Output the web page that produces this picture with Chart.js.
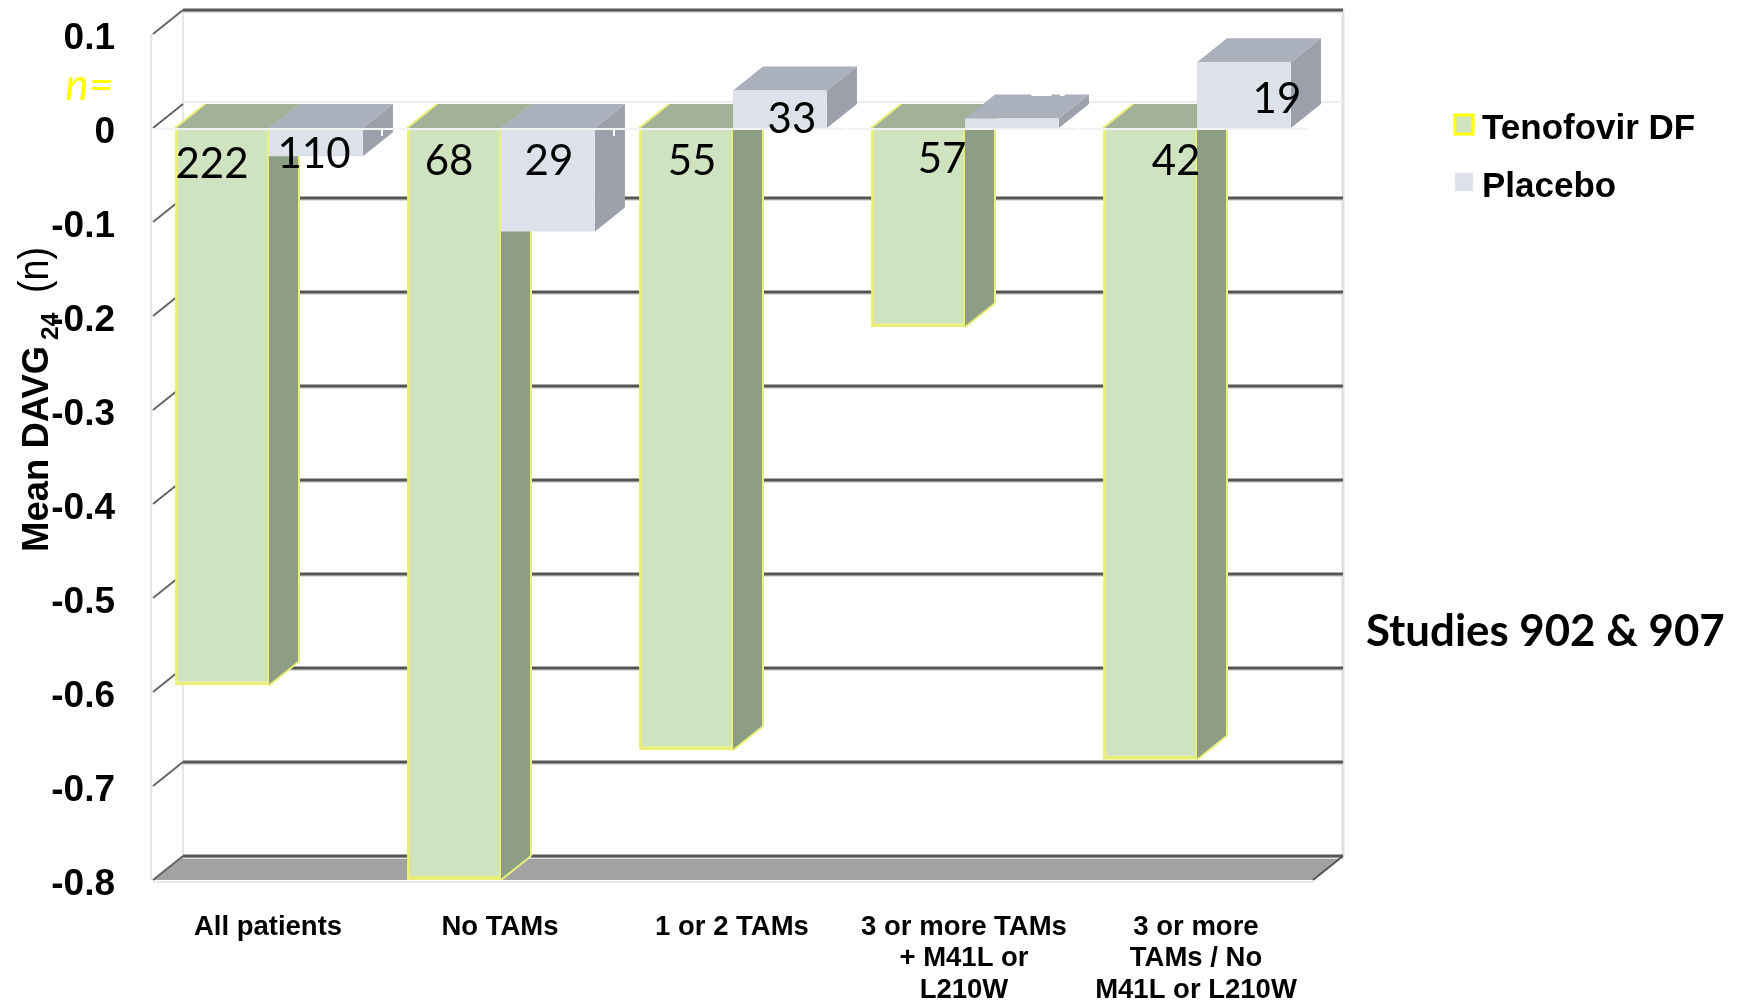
<!DOCTYPE html>
<html lang="en">
<head>
    <meta charset="UTF-8">
    <title>Mean DAVG24 by TAM group</title>
    <script src="https://cdn.jsdelivr.net/npm/chart.js"></script>
    <style>
        *{
            margin: 0;
            padding: 0;
        }
        body{
            background-color: white;
            overflow: hidden;
        }
        canvas{
            display: block;
        }
    </style>
</head>
<body>
    <canvas id="chart" width="1737" height="1004"></canvas>
    <script>
        const categories = [
            "All patients",
            "No TAMs",
            "1 or 2 TAMs",
            ["3 or more TAMs", "+ M41L or", "L210W"],
            ["3 or more", "TAMs / No", "M41L or L210W"]
        ]
        const seriesNames = ["Tenofovir DF", "Placebo"]
        const tenofovir = [-0.593, -0.8, -0.662, -0.212, -0.672]
        const placebo = [-0.03, -0.11, 0.04, 0.01, 0.07]
        const tenofovirN = [222, 68, 55, 57, 42]
        const placeboN = [110, 29, 33, 29, 19]
        const yTickLabels = ["-0.8", "-0.7", "-0.6", "-0.5", "-0.4", "-0.3", "-0.2", "-0.1", "0", "0.1"]

        // oblique depth of the 3D box
        const depthX = 30
        const depthY = 24

        const sans = "'Liberation Sans', Arial, sans-serif"
        const green = {front: "#cfe3c1", side: "#8d9e84", top: "#a2b198", edge: "#e9ef78"}
        const grey = {front: "#dde1ea", side: "#9ba0ab", top: "#aab0bc", edge: null}

        // nudges for the count labels, relative to the bar centre and the zero line
        const tenofovirNudge = [[-10, 36], [-5, 33], [6, 33], [24, 31], [26, 33]]
        const placeboNudge = [[-2, 26], [1, 33], [12, -9], [42, -46], [33, -29]]

        function poly(ctx, pts, fill){
            ctx.beginPath()
            pts.forEach((p, i) => i ? ctx.lineTo(p[0], p[1]) : ctx.moveTo(p[0], p[1]))
            ctx.closePath()
            ctx.fillStyle = fill
            ctx.fill()
        }

        function line(ctx, x1, y1, x2, y2, color, width){
            ctx.beginPath()
            ctx.moveTo(x1, y1)
            ctx.lineTo(x2, y2)
            ctx.strokeStyle = color
            ctx.lineWidth = width
            ctx.stroke()
        }

        function drawFaces(ctx, meta, style){
            meta.data.forEach(bar => {
                const xl = bar.x - bar.width / 2
                const xr = bar.x + bar.width / 2
                const yt = Math.min(bar.y, bar.base)
                const yb = Math.max(bar.y, bar.base)
                poly(ctx, [[xr, yt], [xr + depthX, yt - depthY], [xr + depthX, yb - depthY], [xr, yb]], style.side)
                poly(ctx, [[xl, yt], [xl + depthX, yt - depthY], [xr + depthX, yt - depthY], [xr, yt]], style.top)
                if (style.edge){
                    line(ctx, xl, yt, xl + depthX, yt - depthY, style.edge, 2)
                    line(ctx, xr + depthX, yt - depthY, xr + depthX, yb - depthY, style.edge, 2)
                    line(ctx, xr, yb, xr + depthX, yb - depthY, style.edge, 2)
                }
            })
        }

        // walls, floor, gridlines on the back plane, then the bars' side and top faces
        const boxPlugin = {
            id: "box",
            beforeDatasetsDraw(chart){
                const ctx = chart.ctx
                const y = chart.scales.y
                const {left, right, top, bottom} = chart.chartArea
                ctx.save()
                poly(ctx, [[left, bottom], [left + depthX, bottom - depthY], [right + depthX, bottom - depthY], [right, bottom]], "#a2a2a2")
                line(ctx, left - 2, top, left - 2, bottom, "#e6e6e6", 2)
                line(ctx, left + depthX, top - depthY, left + depthX, bottom - depthY, "#e6e6e6", 2)
                line(ctx, right + depthX, top - depthY, right + depthX, bottom - depthY, "#e0e0e0", 3)
                line(ctx, left, bottom + 2, right, bottom + 2, "#e8e8e8", 2)
                y.ticks.forEach(t => {
                    const py = y.getPixelForValue(t.value)
                    const back = py - depthY
                    line(ctx, left, py, left + depthX, back, "#666", 2)
                    if (t.value === 0){
                        line(ctx, left + depthX, back - 2, right + depthX, back - 2, "#ececec", 2)
                        return
                    }
                    line(ctx, left + depthX, back + 2, right + depthX, back + 2, "#ddd", 2)
                    line(ctx, left + depthX, back, right + depthX, back, "#555", 3)
                })
                line(ctx, right, bottom, right + depthX, bottom - depthY, "#555", 2)
                drawFaces(ctx, chart.getDatasetMeta(0), green)
                drawFaces(ctx, chart.getDatasetMeta(1), grey)
                ctx.restore()
            },
            afterDatasetsDraw(chart){
                const ctx = chart.ctx
                const x = chart.scales.x
                const y = chart.scales.y
                const zero = y.getPixelForValue(0)
                ctx.save()
                line(ctx, chart.chartArea.left, zero + 1, chart.chartArea.right - 5, zero + 1, "#f3f3f3", 2)
                for (let i = 1; i < categories.length; i++){
                    const tx = (x.getPixelForValue(i - 1) + x.getPixelForValue(i)) / 2 - 3
                    line(ctx, tx, zero, tx, zero + 8, "white", 2)
                }

                // patient counts
                ctx.font = "42px Lato, sans-serif"
                ctx.textAlign = "center"
                ctx.textBaseline = "middle"
                const drawCounts = (meta, counts, nudge, hidden) => {
                    meta.data.forEach((bar, i) => {
                        ctx.fillStyle = i === hidden ? "white" : "black"
                        ctx.fillText(counts[i], bar.x + nudge[i][0], zero + nudge[i][1])
                    })
                }
                drawCounts(chart.getDatasetMeta(0), tenofovirN, tenofovirNudge, -1)
                drawCounts(chart.getDatasetMeta(1), placeboN, placeboNudge, 3)

                ctx.fillStyle = "#ffff00"
                ctx.textAlign = "right"
                ctx.font = "italic 44px Lato, sans-serif"
                ctx.fillText("n=", 114, 86)

                // y axis title with its subscript
                ctx.translate(48, 552)
                ctx.rotate(-Math.PI / 2)
                ctx.textAlign = "left"
                ctx.textBaseline = "alphabetic"
                ctx.fillStyle = "black"
                ctx.font = "bold 36.5px " + sans
                ctx.fillText("Mean DAVG", 0, 0)
                ctx.font = "bold 24.5px " + sans
                ctx.fillText("24", 212, 10)
                ctx.scale(1, 1.15)
                ctx.font = "37.6px " + sans
                ctx.fillText("(n)", 259, 0)
                ctx.restore()

                // legend and study note, right of the plot
                ctx.save()
                ctx.fillStyle = green.front
                ctx.fillRect(1455, 115, 18, 19)
                ctx.strokeStyle = "#ffff00"
                ctx.lineWidth = 3
                ctx.strokeRect(1455, 115, 18, 19)
                ctx.fillStyle = grey.front
                ctx.fillRect(1455, 173, 18, 18)
                ctx.fillStyle = "black"
                ctx.textBaseline = "middle"
                ctx.font = "bold 35px " + sans
                ctx.fillText(seriesNames[0], 1482, 129)
                ctx.fillText(seriesNames[1], 1482, 187)
                ctx.font = "bold 43.8px Lato, sans-serif"
                ctx.fillText("Studies 902 & 907", 1366, 632)
                ctx.restore()
            }
        }

        const data = {
            labels: categories,
            datasets: [{
                label: seriesNames[0],
                data: tenofovir,
                backgroundColor: green.front,
                borderColor: green.edge,
                borderWidth: {left: 3, right: 2, bottom: 4, top: 0},
                borderSkipped: false
            },
            {
                label: seriesNames[1],
                data: placebo,
                backgroundColor: grey.front,
                borderWidth: 0
            }]
        }

        const config = {
            type: "bar",
            data: data,
            options: {
                responsive: false,
                animation: false,
                categoryPercentage: 0.81,
                barPercentage: 1,
                layout: {padding: {top: 34, right: 424, left: 0, bottom: 0}},
                plugins: {
                    legend: {display: false},
                    tooltip: {enabled: false}
                },
                scales: {
                    x: {
                        afterFit: s => { s.height = 124 },
                        grid: {display: false},
                        border: {display: false},
                        ticks: {
                            autoSkip: false,
                            maxRotation: 0,
                            padding: 23,
                            labelOffset: -1,
                            color: "black",
                            font: {family: sans, size: 27.5, weight: "bold", lineHeight: 1.16}
                        }
                    },
                    y: {
                        min: -0.8,
                        max: 0.1,
                        afterFit: s => {
                            s.width = 153
                            s.paddingTop = 0
                            s.paddingBottom = 0
                        },
                        grid: {display: false},
                        border: {display: false},
                        ticks: {
                            stepSize: 0.1,
                            padding: 30,
                            labelOffset: 5,
                            color: "black",
                            font: {family: sans, size: 37, weight: "bold"},
                            callback: (v, i) => yTickLabels[i]
                        }
                    }
                }
            },
            plugins: [boxPlugin]
        }

        const chart = new Chart(document.getElementById("chart"), config)
    </script>
</body>
</html>
